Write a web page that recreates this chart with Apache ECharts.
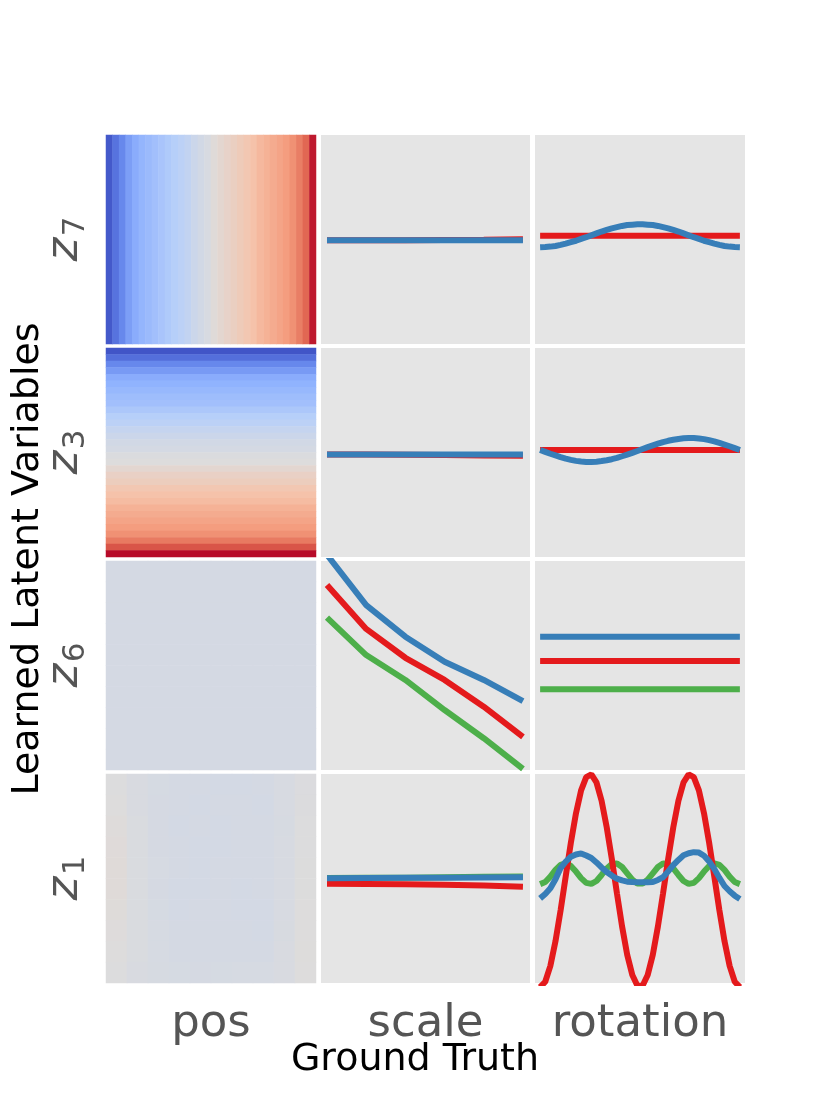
<!DOCTYPE html>
<html>
<head>
<meta charset="utf-8">
<script src="https://cdn.jsdelivr.net/npm/echarts@6/dist/echarts.min.js"></script>
<style>
html,body{margin:0;padding:0;background:#ffffff;}
#chart{width:830px;height:1107px;}
</style>
</head>
<body>
<div id="chart"></div>
<script>
// ---------------- data ----------------
const rowLatents = ['7', '3', '6', '1'];
const colLabels = ['pos', 'scale', 'rotation'];
const xTitle = 'Ground Truth';
const yTitle = 'Learned Latent Variables';

// pos column (normalised colour values, 0 = blue, 1 = red)
const z7PosStripes = [0.03,0.09,0.14,0.20,0.24,0.27,0.29,0.31,0.33,0.35,0.37,0.39,0.41,0.44,0.46,0.48,0.51,0.53,0.55,0.57,0.59,0.61,0.63,0.66,0.68,0.70,0.72,0.74,0.77,0.81,0.86,0.97];
const z3PosStripes = [0.02,0.08,0.14,0.19,0.24,0.26,0.28,0.30,0.31,0.34,0.37,0.39,0.42,0.44,0.46,0.47,0.49,0.50,0.53,0.56,0.58,0.61,0.63,0.65,0.68,0.70,0.72,0.74,0.77,0.82,0.89,0.99];
const z6PosGrid = [
  [0.470,0.471,0.468,0.470,0.470,0.469,0.470,0.468,0.470,0.471],
  [0.470,0.468,0.470,0.471,0.468,0.470,0.470,0.469,0.468,0.470],
  [0.471,0.470,0.470,0.468,0.470,0.471,0.468,0.470,0.470,0.470],
  [0.470,0.470,0.468,0.470,0.469,0.470,0.470,0.470,0.471,0.468],
  [0.469,0.470,0.470,0.470,0.470,0.468,0.470,0.469,0.470,0.470],
  [0.470,0.468,0.470,0.471,0.468,0.470,0.470,0.468,0.470,0.470],
  [0.470,0.470,0.471,0.468,0.470,0.470,0.469,0.470,0.468,0.470],
  [0.471,0.470,0.468,0.470,0.470,0.471,0.468,0.470,0.470,0.469],
  [0.470,0.469,0.470,0.470,0.468,0.470,0.470,0.470,0.470,0.470],
  [0.470,0.470,0.470,0.469,0.470,0.470,0.470,0.469,0.470,0.471]
];
const z1PosGrid = [
  [0.495,0.482,0.474,0.468,0.470,0.466,0.467,0.471,0.480,0.492],
  [0.500,0.483,0.473,0.470,0.466,0.470,0.469,0.466,0.479,0.494],
  [0.505,0.485,0.472,0.467,0.470,0.466,0.470,0.470,0.478,0.496],
  [0.508,0.486,0.473,0.470,0.465,0.466,0.469,0.470,0.479,0.497],
  [0.510,0.487,0.475,0.470,0.466,0.469,0.470,0.470,0.480,0.498],
  [0.510,0.487,0.473,0.466,0.465,0.470,0.466,0.470,0.480,0.498],
  [0.507,0.486,0.474,0.467,0.470,0.470,0.466,0.466,0.479,0.499],
  [0.503,0.485,0.476,0.470,0.470,0.469,0.470,0.467,0.481,0.501],
  [0.500,0.485,0.476,0.471,0.470,0.470,0.469,0.470,0.483,0.502],
  [0.497,0.484,0.477,0.474,0.472,0.474,0.475,0.476,0.484,0.499]
];

// scale column (6 scale steps), values in % of panel height
const z7ScaleRed   = [49.6,49.6,49.7,49.8,49.9,50.1];
const z7ScaleBlue  = [49.6,49.6,49.6,49.6,49.6,49.6];
const z3ScaleRed   = [49.1,49.0,48.9,48.8,48.6,48.4];
const z3ScaleBlue  = [49.1,49.1,49.1,49.1,49.1,49.1];
const z6ScaleGreen = [72.9,55.0,43.1,28.7,15.2,0.5];
const z6ScaleRed   = [88.5,67.5,53.7,43.1,30.3,15.9];
const z6ScaleBlue  = [103.0,78.9,63.8,51.8,43.1,33.0];
const z1ScaleGreen = [50.2,50.3,50.4,50.6,50.8,51.0];
const z1ScaleRed   = [47.5,47.4,47.2,47.0,46.6,46.1];
const z1ScaleBlue  = [50.1,50.2,50.3,50.4,50.5,50.6];

// rotation column (40 rotation steps), values in % of panel height
const z7RotRed  = [51.8,51.8,51.8,51.8,51.8,51.8,51.8,51.8,51.8,51.8,51.8,51.8,51.8,51.8,51.8,51.8,51.8,51.8,51.8,51.8,51.8,51.8,51.8,51.8,51.8,51.8,51.8,51.8,51.8,51.8,51.8,51.8,51.8,51.8,51.8,51.8,51.8,51.8,51.8,51.8];
const z7RotBlue = [46.3,46.4,46.6,46.9,47.4,48.0,48.7,49.4,50.3,51.1,52.0,52.9,53.8,54.6,55.3,55.9,56.5,56.9,57.1,57.3,57.3,57.1,56.9,56.5,55.9,55.3,54.6,53.8,52.9,52.0,51.1,50.3,49.4,48.7,48.0,47.4,46.9,46.6,46.4,46.3];
const z3RotRed  = [51.2,51.2,51.2,51.2,51.2,51.2,51.2,51.2,51.2,51.2,51.2,51.2,51.2,51.2,51.2,51.2,51.2,51.2,51.2,51.2,51.2,51.2,51.2,51.2,51.2,51.2,51.2,51.2,51.2,51.2,51.2,51.2,51.2,51.2,51.2,51.2,51.2,51.2,51.2,51.2];
const z3RotBlue = [51.2,50.3,49.4,48.6,47.8,47.1,46.5,46.0,45.7,45.5,45.5,45.6,45.9,46.3,46.8,47.4,48.2,49.0,49.8,50.7,51.7,52.6,53.4,54.2,55.0,55.6,56.1,56.5,56.8,56.9,56.9,56.7,56.4,55.9,55.3,54.6,53.8,53.0,52.1,51.2];
const z6RotGreen = [38.6,38.6,38.6,38.6,38.6,38.6,38.6,38.6,38.6,38.6,38.6,38.6,38.6,38.6,38.6,38.6,38.6,38.6,38.6,38.6,38.6,38.6,38.6,38.6,38.6,38.6,38.6,38.6,38.6,38.6,38.6,38.6,38.6,38.6,38.6,38.6,38.6,38.6,38.6,38.6];
const z6RotRed   = [52.2,52.2,52.2,52.2,52.2,52.2,52.2,52.2,52.2,52.2,52.2,52.2,52.2,52.2,52.2,52.2,52.2,52.2,52.2,52.2,52.2,52.2,52.2,52.2,52.2,52.2,52.2,52.2,52.2,52.2,52.2,52.2,52.2,52.2,52.2,52.2,52.2,52.2,52.2,52.2];
const z6RotBlue  = [63.8,63.8,63.8,63.8,63.8,63.8,63.8,63.8,63.8,63.8,63.8,63.8,63.8,63.8,63.8,63.8,63.8,63.8,63.8,63.8,63.8,63.8,63.8,63.8,63.8,63.8,63.8,63.8,63.8,63.8,63.8,63.8,63.8,63.8,63.8,63.8,63.8,63.8,63.8,63.8];
const z1RotGreen = [47.3,48.3,50.9,54.1,56.5,57.3,56.0,53.3,50.2,47.9,47.4,48.8,51.7,54.8,56.9,57.2,55.5,52.5,49.5,47.6,47.6,49.5,52.5,55.5,57.2,56.9,54.8,51.7,48.8,47.4,47.9,50.2,53.3,56.0,57.3,56.5,54.1,50.9,48.3,47.3];
const z1RotRed   = [-2.0,0.6,8.2,20.0,34.8,51.1,67.1,81.2,92.2,98.5,99.8,96.0,87.2,74.5,59.3,42.9,27.1,13.5,3.8,-1.3,-1.3,3.8,13.5,27.1,42.9,59.3,74.5,87.2,96.0,99.8,98.5,92.2,81.2,67.1,51.1,34.8,20.0,8.2,0.6,-2.0];
const z1RotBlue  = [40.5,42.6,45.3,49.6,55.0,58.1,60.4,61.5,62.0,61.0,59.8,57.7,55.3,53.1,51.4,49.9,49.1,48.5,48.3,48.2,48.2,48.2,48.3,49.3,50.6,53.4,56.4,58.9,61.1,62.1,62.6,62.4,60.9,58.2,54.6,50.3,46.4,43.9,41.8,40.2];

// ---------------- styling / layout ----------------
const RED = '#e41a1c', BLUE = '#377eb8', GREEN = '#4daf4a';
const LW = 6;
const coolwarm = ['#3b4cc0','#6282ea','#8db0fe','#b8d0f9','#dddcdc','#f5c4ac','#f49a7b','#de604d','#b40426'];
const colBox = [{left:106,width:210},{left:321,width:209},{left:535,width:210}];
const rowTop = [135,348,561,774];
const PH = 209;

const grids = [], xAxes = [], yAxes = [], series = [];
function gIdx(r,c){return r*3+c;}
for (let r=0;r<4;r++){
  for (let c=0;c<3;c++){
    grids.push({left:colBox[c].left, top:rowTop[r], width:colBox[c].width, height:PH,
      show:c>0, backgroundColor:'#e5e5e5', borderWidth:0, containLabel:false});
    const g = gIdx(r,c);
    if (c===0){
      let nx=1, ny=1;
      if (r===0) nx=z7PosStripes.length;
      else if (r===1) ny=z3PosStripes.length;
      else { nx=10; ny=10; }
      xAxes.push({type:'category', gridIndex:g, show:false, data:Array.from({length:nx},(_,i)=>i)});
      yAxes.push({type:'category', gridIndex:g, show:false, inverse:true, data:Array.from({length:ny},(_,i)=>i)});
    } else if (c===1){
      xAxes.push({type:'value', gridIndex:g, show:false, min:-0.153, max:5.18});
      yAxes.push({type:'value', gridIndex:g, show:false, min:0, max:100});
    } else {
      xAxes.push({type:'value', gridIndex:g, show:false, min:-1, max:40});
      yAxes.push({type:'value', gridIndex:g, show:false, min:0, max:100});
    }
  }
}

function heat(g, data){
  series.push({type:'heatmap', xAxisIndex:g, yAxisIndex:g, data:data,
    itemStyle:{borderWidth:0}, emphasis:{disabled:true}, progressive:0});
}
heat(gIdx(0,0), z7PosStripes.map((v,i)=>[i,0,v]));
heat(gIdx(1,0), z3PosStripes.map((v,j)=>[0,j,v]));
const g6=[], g1=[];
z6PosGrid.forEach((row,j)=>row.forEach((v,i)=>g6.push([i,j,v])));
z1PosGrid.forEach((row,j)=>row.forEach((v,i)=>g1.push([i,j,v])));
heat(gIdx(2,0), g6);
heat(gIdx(3,0), g1);

function line(g, vals, color){
  series.push({type:'line', xAxisIndex:g, yAxisIndex:g, data:vals.map((v,i)=>[i,v]),
    symbol:'none', showSymbol:false, clip:true, smooth:false,
    lineStyle:{width:LW, color:color}, itemStyle:{color:color}, emphasis:{disabled:true}});
}
line(gIdx(0,1), z7ScaleRed, RED);   line(gIdx(0,1), z7ScaleBlue, BLUE);
line(gIdx(1,1), z3ScaleRed, RED);   line(gIdx(1,1), z3ScaleBlue, BLUE);
line(gIdx(2,1), z6ScaleGreen, GREEN); line(gIdx(2,1), z6ScaleRed, RED); line(gIdx(2,1), z6ScaleBlue, BLUE);
line(gIdx(3,1), z1ScaleGreen, GREEN); line(gIdx(3,1), z1ScaleRed, RED); line(gIdx(3,1), z1ScaleBlue, BLUE);
line(gIdx(0,2), z7RotRed, RED);     line(gIdx(0,2), z7RotBlue, BLUE);
line(gIdx(1,2), z3RotRed, RED);     line(gIdx(1,2), z3RotBlue, BLUE);
line(gIdx(2,2), z6RotGreen, GREEN); line(gIdx(2,2), z6RotRed, RED); line(gIdx(2,2), z6RotBlue, BLUE);
line(gIdx(3,2), z1RotGreen, GREEN); line(gIdx(3,2), z1RotRed, RED); line(gIdx(3,2), z1RotBlue, BLUE);

// text
const graphic = [];
const FONT = '"DejaVu Sans", "Liberation Sans", sans-serif';
colLabels.forEach((t,c)=>{
  graphic.push({type:'text', x:colBox[c].left+colBox[c].width/2, y:1024, silent:true,
    style:{text:t, fill:'#555555', font:'normal 45px '+FONT, textAlign:'center', textVerticalAlign:'middle'}});
});
graphic.push({type:'text', x:415, y:1060, silent:true,
  style:{text:xTitle, fill:'#000000', font:'normal 38px '+FONT, textAlign:'center', textVerticalAlign:'middle'}});
graphic.push({type:'text', x:28.5, y:559, rotation:Math.PI/2, silent:true,
  style:{text:yTitle, fill:'#000000', font:'normal 38px '+FONT, textAlign:'center', textVerticalAlign:'middle'}});
rowLatents.forEach((d,r)=>{
  const cy = rowTop[r] + PH/2;
  graphic.push({type:'text', x:65, y:cy+10, rotation:Math.PI/2, silent:true,
    style:{text:'z', fill:'#555555', font:'italic 45px '+FONT, textAlign:'center', textVerticalAlign:'middle'}});
  graphic.push({type:'text', x:75.5, y:cy-13, rotation:Math.PI/2, silent:true,
    style:{text:d, fill:'#555555', font:'normal 31px '+FONT, textAlign:'center', textVerticalAlign:'middle'}});
});

const chart = echarts.init(document.getElementById('chart'), null, {renderer:'canvas'});
chart.setOption({
  animation:false,
  backgroundColor:'#ffffff',
  grid:grids, xAxis:xAxes, yAxis:yAxes,
  visualMap:{type:'continuous', show:false, min:0, max:1, dimension:2,
    seriesIndex:[0,1,2,3], inRange:{color:coolwarm}},
  series:series,
  graphic:graphic
});
</script>
</body>
</html>
